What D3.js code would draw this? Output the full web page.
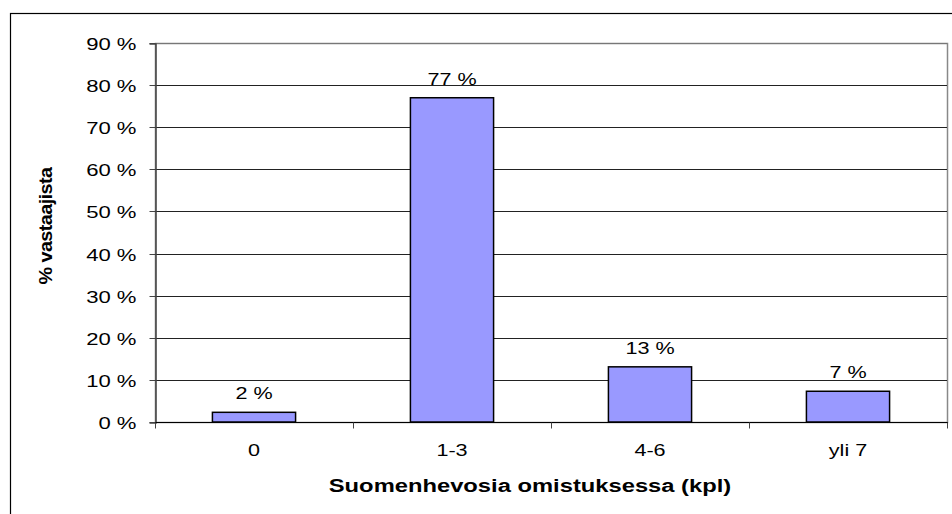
<!DOCTYPE html>
<html>
<head>
<meta charset="utf-8">
<script src="https://cdn.jsdelivr.net/npm/d3@7"></script>
<style>
  body { margin: 0; background: #fff; }
  svg { display: block; }
</style>
</head>
<body>
<svg id="chart"></svg>
<script>
// data
let categories = ["0", "1-3", "4-6", "yli 7"];
let shares = [2.3, 77, 13.1, 7.3];
let yTicks = [0, 10, 20, 30, 40, 50, 60, 70, 80, 90];

let svgWidth = 952;
let svgHeight = 514;
let fontFam = "Arial, 'Liberation Sans', sans-serif";
let sx = 1.35; // the original text is stretched horizontally

let svg = d3.select("#chart")
  .attr("width", svgWidth)
  .attr("height", svgHeight);

let plotLeft = 155, plotRight = 947, plotTop = 43, plotBottom = 422;

let x = d3.scaleBand()
  .domain(categories)
  .range([plotLeft, plotRight])
  .padding(0);
let y = d3.scaleLinear()
  .domain([0, 90])
  .range([plotBottom, plotTop]);

// outer frame
svg.append("rect")
  .attr("x", 10.5)
  .attr("y", 13.5)
  .attr("width", 960)
  .attr("height", 520)
  .style("fill", "none")
  .style("stroke", "#000")
  .style("stroke-width", 1.2);

// plot area border (gray)
svg.append("rect")
  .attr("x", plotLeft + 0.5)
  .attr("y", Math.round(y(90)) + 0.5)
  .attr("width", plotRight - plotLeft)
  .attr("height", Math.round(y(0)) - Math.round(y(90)))
  .style("fill", "none")
  .style("stroke", "#888")
  .style("stroke-width", 1.5);

// gridlines
svg.selectAll(".grid")
  .data(yTicks.filter(d => d > 0))
  .enter()
  .append("line")
  .attr("x1", plotLeft)
  .attr("x2", plotRight)
  .attr("y1", d => Math.round(y(d)) + 0.5)
  .attr("y2", d => Math.round(y(d)) + 0.5)
  .style("stroke", d => d == 90 ? "#777" : "#222")
  .style("stroke-width", 1);

// bars
let barW = x.bandwidth() * 0.42;
svg.selectAll(".bar")
  .data(categories)
  .enter()
  .append("rect")
  .attr("x", (d, i) => x(d) + (x.bandwidth() - barW) / 2)
  .attr("y", (d, i) => y(shares[i]))
  .attr("width", barW)
  .attr("height", (d, i) => y(0) - y(shares[i]))
  .style("fill", "#9999FF")
  .style("stroke", "#000")
  .style("stroke-width", 1.5);

// value labels
svg.selectAll(".val")
  .data(categories)
  .enter()
  .append("text")
  .attr("transform", (d, i) => "translate(" + (x(d) + x.bandwidth() / 2) + "," + (y(shares[i]) - 13) + ") scale(" + sx + ",1)")
  .attr("text-anchor", "middle")
  .text((d, i) => Math.round(shares[i]) + " %")
  .style("font-family", fontFam)
  .style("font-size", "16px")
  .style("fill", "#000");

// y-axis
let yAxis = svg.append("g")
  .attr("transform", "translate(" + (plotLeft + 0.5) + ",0.5)")
  .call(d3.axisLeft(y).tickValues(yTicks).tickSize(6).tickFormat(d => d + " %"));
yAxis.select(".domain").style("stroke", "#444").style("stroke-width", 1.5);
yAxis.selectAll(".tick").attr("transform", d => "translate(0," + Math.round(y(d)) + ")");
yAxis.selectAll(".tick line").style("stroke", "#444");
yAxis.selectAll(".tick text")
  .attr("x", 0)
  .attr("dy", null)
  .attr("transform", "translate(-19,6) scale(1.3,1)")
  .style("font-family", fontFam)
  .style("font-size", "17px")
  .style("fill", "#000");

// x-axis
let xAxis = svg.append("g")
  .attr("transform", "translate(0," + (plotBottom + 0.5) + ")");
xAxis.append("line")
  .attr("x1", plotLeft)
  .attr("x2", plotRight + 1)
  .style("stroke", "#000")
  .style("stroke-width", 1.2);
xAxis.selectAll(".xtick")
  .data(categories.concat(["end"]))
  .enter()
  .append("line")
  .attr("x1", (d, i) => Math.round(i < categories.length ? x(d) : plotRight) + 0.5)
  .attr("x2", (d, i) => Math.round(i < categories.length ? x(d) : plotRight) + 0.5)
  .attr("y1", 0)
  .attr("y2", 6)
  .style("stroke", "#444");
xAxis.selectAll(".xlab")
  .data(categories)
  .enter()
  .append("text")
  .attr("transform", d => "translate(" + (x(d) + x.bandwidth() / 2) + ",33) scale(" + sx + ",1)")
  .attr("text-anchor", "middle")
  .text(d => d)
  .style("font-family", fontFam)
  .style("font-size", "16px")
  .style("fill", "#000");

// axis titles
svg.append("text")
  .attr("transform", "translate(530,492) scale(1.32,1)")
  .attr("text-anchor", "middle")
  .text("Suomenhevosia omistuksessa (kpl)")
  .style("font-family", fontFam)
  .style("font-weight", "bold")
  .style("font-size", "18px");
svg.append("text")
  .attr("transform", "translate(52,226) rotate(-90)")
  .attr("text-anchor", "middle")
  .attr("textLength", 117)
  .attr("lengthAdjust", "spacingAndGlyphs")
  .text("% vastaajista")
  .style("font-family", fontFam)
  .style("font-weight", "bold")
  .style("font-size", "18px")
  .style("letter-spacing", "-0.5px");
</script>
</body>
</html>
